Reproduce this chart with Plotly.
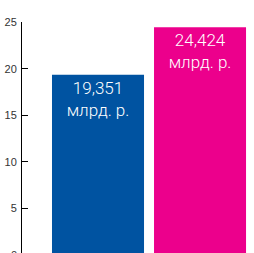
import plotly.graph_objects as go

categories = [0, 1]
values = [19.351, 24.424]
labels = ["19,351<br>млрд. р.", "24,424<br>млрд. р."]
colors = ["#0053A1", "#EC008C"]
tick_vals = [0, 5, 10, 15, 20, 25]

fig = go.Figure()
fig.add_trace(go.Bar(
    x=categories, y=values, width=0.902,
    marker=dict(color=colors, line=dict(width=0)),
    text=labels, textposition="inside", insidetextanchor="end",
    textfont=dict(color="white", size=17, family="Roboto", weight=300),
    textangle=0, hoverinfo="skip",
))
fig.add_annotation(x=0, xref="paper", y=-0.24 / 24.76, yref="paper", text="0", showarrow=False,
                   xanchor="right", xshift=-3, yanchor="middle",
                   font=dict(size=11, color="#333", family="Liberation Sans"))
fig.update_layout(
    width=254, height=253,
    margin=dict(l=22, r=0, t=22, b=0, autoexpand=False),
    plot_bgcolor="white", paper_bgcolor="white",
    showlegend=False,
    xaxis=dict(range=[-0.745, 1.529], showticklabels=False, showgrid=False,
               zeroline=False, showline=False, ticks="", automargin=False),
    yaxis=dict(range=[0.24, 25], tickvals=tick_vals, showgrid=False, zeroline=False,
               showline=True, linecolor="black", linewidth=1, automargin=False,
               ticks="inside", ticklen=6, tickcolor="black", ticklabelstandoff=2,
               tickfont=dict(size=11, color="#333", family="Liberation Sans")),
)
fig.write_html("out.html", config={"displayModeBar": False},
               post_script="document.body.style.margin='0';")
